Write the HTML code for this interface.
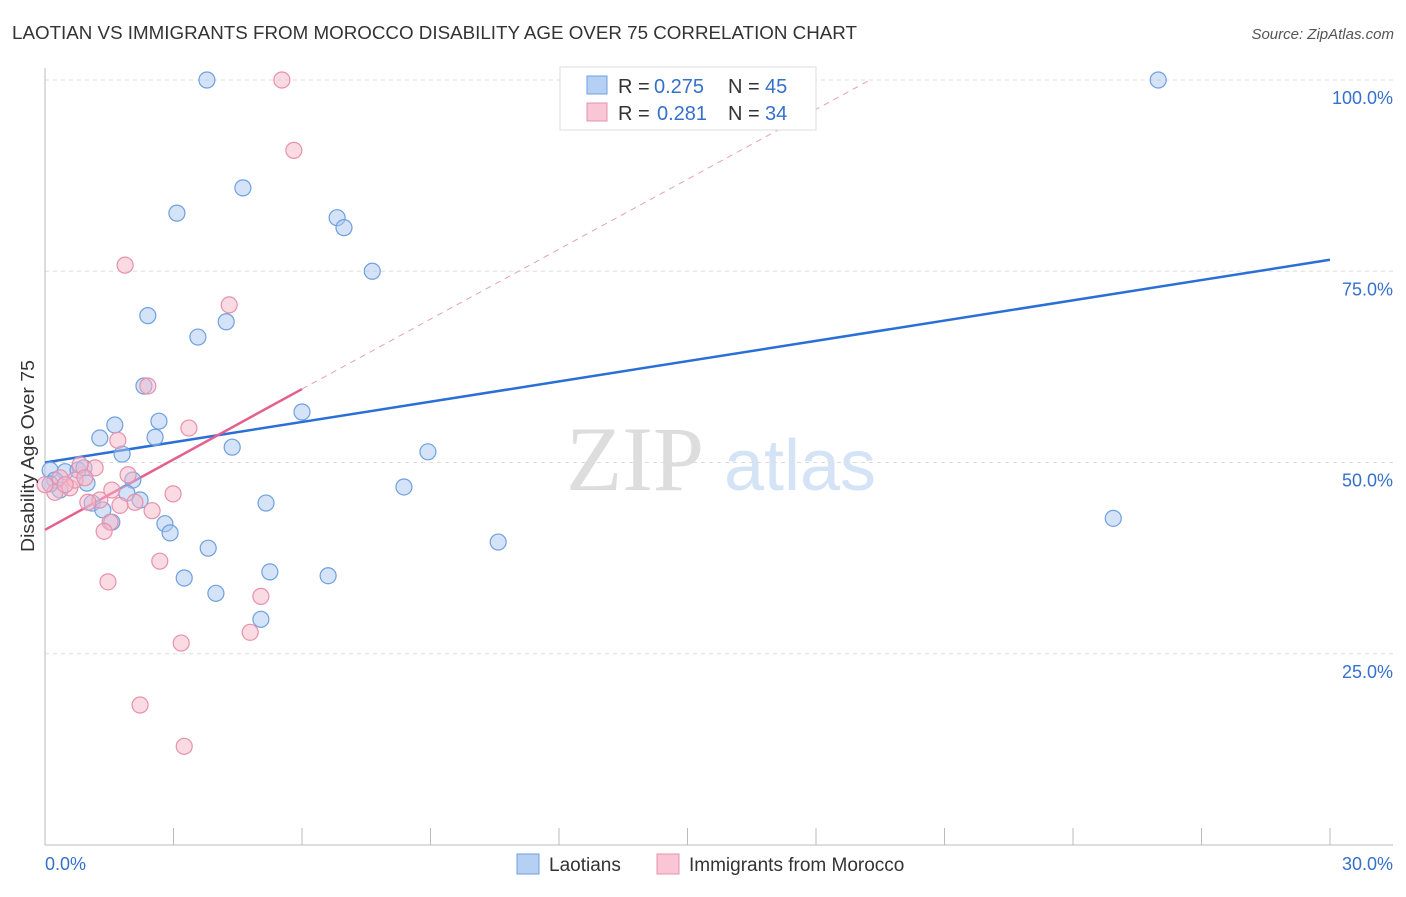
<!DOCTYPE html>
<html><head><meta charset="utf-8"><style>
body{margin:0;background:#fff;font-family:"Liberation Sans",sans-serif}
</style></head><body>
<svg id="chart" width="1406" height="892" xmlns="http://www.w3.org/2000/svg" font-family="Liberation Sans, sans-serif">
<text x="12" y="39" font-size="18" fill="#333" textLength="845" lengthAdjust="spacingAndGlyphs">LAOTIAN VS IMMIGRANTS FROM MOROCCO DISABILITY AGE OVER 75 CORRELATION CHART</text>
<text x="1394" y="39" font-size="15" fill="#555" text-anchor="end" font-style="italic">Source: ZipAtlas.com</text>
<g>
<text x="635" y="490" font-size="92" fill="#ddd" font-family="Liberation Serif, serif" text-anchor="middle">ZIP</text>
<text x="800" y="490" font-size="72" fill="#d4e3f5" text-anchor="middle">atlas</text>
</g>
<g id="grid"></g><g id="axes"></g><g id="lines"></g><g id="points"></g>
<text transform="translate(34,456) rotate(-90)" font-size="18" fill="#333" text-anchor="middle" textLength="192" lengthAdjust="spacingAndGlyphs">Disability Age Over 75</text>
<g>
<rect x="560" y="67" width="256" height="63" fill="#fff" stroke="#ddd"/>
<rect x="587" y="76" width="20" height="18" fill="#b5d0f3" stroke="#6ea0e0"/>
<rect x="587" y="103" width="20" height="18" fill="#f8c6d5" stroke="#e890ab"/>
<text x="618" y="93" font-size="20" fill="#333">R =</text>
<text x="654" y="93" font-size="20" fill="#3570cc">0.275</text>
<text x="728" y="93" font-size="20" fill="#333">N =</text>
<text x="765" y="93" font-size="20" fill="#3570cc">45</text>
<text x="618" y="120" font-size="20" fill="#333">R =</text>
<text x="657" y="120" font-size="20" fill="#3570cc">0.281</text>
<text x="728" y="120" font-size="20" fill="#333">N =</text>
<text x="765" y="120" font-size="20" fill="#3570cc">34</text>
</g>
<g>
<rect x="517" y="854" width="22" height="20" fill="#b5d0f3" stroke="#6ea0e0"/>
<text x="549" y="871" font-size="19" fill="#333">Laotians</text>
<rect x="657" y="854" width="22" height="20" fill="#f8c6d5" stroke="#e890ab"/>
<text x="689" y="871" font-size="19" fill="#333">Immigrants from Morocco</text>
</g>
</svg>
<script>
const yTicks=[25,50,75,100];
const yTickLabels=["25.0%","50.0%","75.0%","100.0%"];
const xTicks=[0,3,6,9,12,15,18,21,24,27,30];
const blueX=[3.78,25.99,4.62,3.08,6.82,6.98,7.64,2.40,4.23,3.57,2.31,6.00,2.66,1.63,1.28,2.57,4.37,8.94,1.80,0.12,0.47,0.77,0.91,0.23,0.98,2.05,0.35,8.38,1.91,2.22,1.10,5.16,1.35,1.56,2.80,2.92,24.94,10.58,3.81,5.25,6.61,3.25,3.99,5.04,0.12];
const blueY=[100,100,85.9,82.6,82.0,80.7,75.0,69.2,68.4,66.4,60.0,56.6,55.4,54.9,53.2,53.3,52.0,51.4,51.1,49.0,48.8,49.0,49.3,47.7,47.3,47.7,46.4,46.8,46.0,45.1,44.7,44.7,43.8,42.2,42.0,40.8,42.7,39.6,38.8,35.7,35.2,34.9,32.9,29.5,47.2];
const pinkX=[5.53,5.81,1.87,4.30,2.40,3.36,1.70,1.94,1.17,0.82,0.35,0.58,2.99,1.28,1.00,2.10,1.75,2.50,1.52,1.38,2.68,1.47,5.04,4.79,3.18,2.22,3.25,0.70,0.23,0.47,0.0,0.93,1.56];
const pinkY=[100,90.8,75.8,70.6,60.0,54.5,52.9,48.4,49.3,49.7,48.0,46.7,45.9,45.1,44.8,44.8,44.4,43.7,42.2,41.0,37.1,34.4,32.5,27.8,26.4,18.3,12.9,47.7,46.1,47.1,47.1,48.0,46.4];
const blueTrend=[[0,50.0],[30,76.5]];
const pinkTrend=[[0,41.2],[6.0,59.6]];
const pinkDash=[[6.0,59.6],[19.26,100]];
const NS="http://www.w3.org/2000/svg";
const sx=v=>45+v/30*1285, sy=v=>845-v*7.65;
function mk(tag,attrs,parent){const e=document.createElementNS(NS,tag);for(const k in attrs)e.setAttribute(k,attrs[k]);document.getElementById(parent).appendChild(e);return e;}
yTicks.forEach((t,i)=>{
 const l=mk('line',{x1:45,x2:1393,y1:sy(t),y2:sy(t),stroke:'#ddd','stroke-dasharray':'4,4'},'grid');
 
 
 const tx=mk('text',{x:1393,y:sy(t)+24,'font-size':18,fill:'#3570cc','text-anchor':'end'},'grid');
 tx.textContent=yTickLabels[i];
 
 
});
const ax=mk('line',{x1:45,x2:1393,y1:845,y2:845,stroke:'#bbb'},'axes');


const ay=mk('line',{x1:45,x2:45,y1:68,y2:845,stroke:'#bbb'},'axes');


xTicks.forEach(t=>{
 const l=mk('line',{x1:sx(t),x2:sx(t),y1:828,y2:845,stroke:'#bbb'},'axes');
 
 
});
const x0=mk('text',{x:45,y:870,'font-size':18,fill:'#3570cc'},'axes');x0.textContent='0.0%';


const x1=mk('text',{x:1393,y:870,'font-size':18,fill:'#3570cc','text-anchor':'end'},'axes');x1.textContent='30.0%';


function pts(xs,ys,fill,stroke,name){xs.forEach((x,i)=>{
 const c=mk('circle',{cx:sx(x),cy:sy(ys[i]),r:8,fill:fill,'fill-opacity':0.5,stroke:stroke,'stroke-width':1.2},'points');
 
 
});}
pts(blueX,blueY,'#a9c8f0','#6ea0e0','laotian-point');
pts(pinkX,pinkY,'#f5b5c8','#e890ab','morocco-point');
function ln(p,stroke,w,dash,name){const l=mk('line',{x1:sx(p[0][0]),y1:sy(p[0][1]),x2:sx(p[1][0]),y2:sy(p[1][1]),stroke:stroke,'stroke-width':w},'lines');if(dash)l.setAttribute('stroke-dasharray',dash);
 
 }
ln(pinkDash,'#e8a0b8',1,'6,5','morocco-trend-extension');
ln(blueTrend,'#2a6fd6',2.5,null,'laotian-trend-line');
ln(pinkTrend,'#e5608e',2.5,null,'morocco-trend-line');
</script>
</body></html>
